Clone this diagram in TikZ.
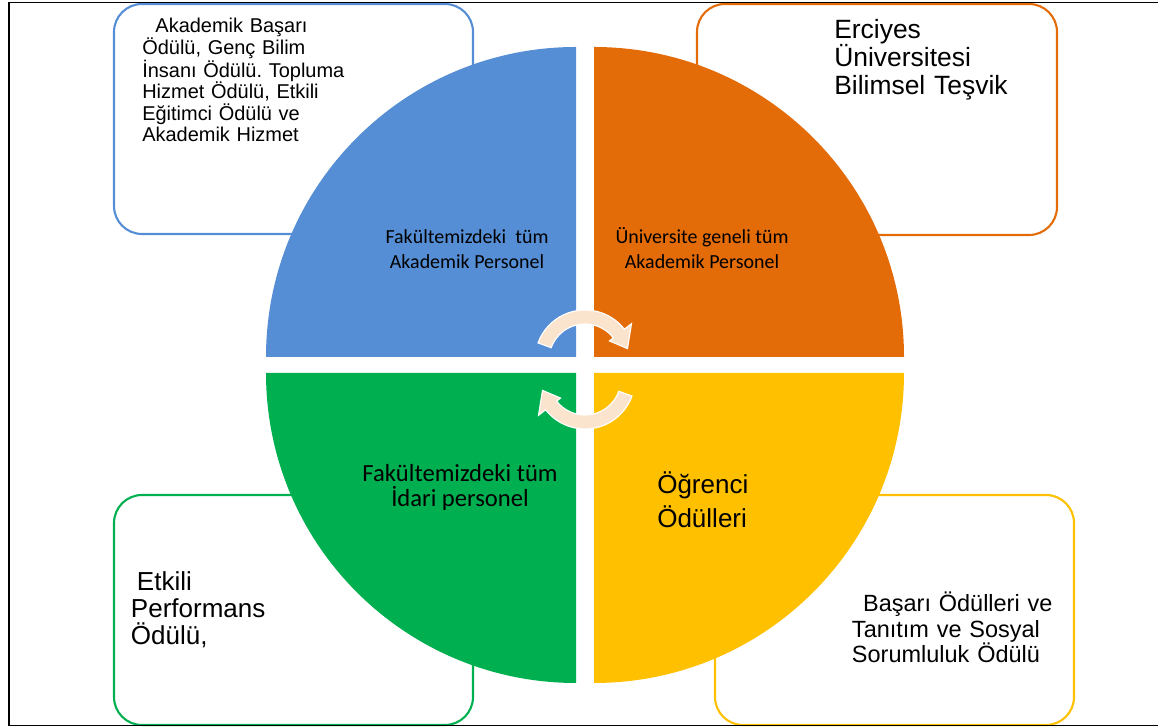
\documentclass[tikz,border=0pt]{standalone}
\usepackage{fontspec}
\setmainfont{Liberation Sans}
\newfontfamily\calibrifont{Carlito}
\usepackage{tikz}
\usetikzlibrary{math}
\frenchspacing
\definecolor{CycBlue}{RGB}{85,142,213}
\definecolor{CycOrange}{RGB}{227,108,9}
\definecolor{CycGreen}{RGB}{0,176,80}
\definecolor{CycYellow}{RGB}{255,192,0}
\definecolor{CycPeach}{RGB}{251,228,206}
\tikzset{%
  px/.style={x=0.025cm,y=0.025cm},
  award box/.style={draw=#1, line width=1.5pt, rounded corners=0.7cm, fill=white},
  box text/.style={anchor=base west, inner sep=0pt, align=left, text width=#1},
  sector text/.style={inner sep=0pt, align=center, font=\calibrifont\fontsize{#1}{17.8}\selectfont},
  frame line/.style={line width=1.4pt, draw=black},
  turn arrow/.pic={
    \path[fill=CycPeach, draw=white, line width=0.8pt]
      (160:50) arc[start angle=160, end angle=38, radius=50]
      -- (38:59) -- (15:44) -- (38:31) -- (38:36)
      arc[start angle=38, end angle=160, radius=36] -- cycle;
  }
}

\begin{document}
\begin{tikzpicture}[px]
    \tikzmath{
      \R=310; % sector radius
      \gx=9;% half gap, horizontal
      \gy=8;% half gap, vertical
      \cx=585;\cy=363;
    }
    \useasboundingbox (0,0) rectangle (1158,728);
    % Award boxes, behind the circle.
    \draw[award box=CycBlue] (114,494) rectangle (473,724);
    \draw[award box=CycOrange] (697,493) rectangle (1057,724);
    \draw[award box=CycGreen] (114,3) rectangle (473,233);
    \draw[award box=CycYellow] (715,3) rectangle (1074,233);
    % Four quarters.
    \fill[CycBlue] (\cx-\gx,\cy+\gy) -- ++(-\R,0) arc[start angle=180, end angle=90, radius=\R] -- cycle;
    \fill[CycOrange] (\cx+\gx,\cy+\gy) -- ++(0,\R) arc[start angle=90, end angle=0, radius=\R] -- cycle;
    \fill[CycGreen] (\cx-\gx,\cy-\gy) -- ++(-\R,0) arc[start angle=180, end angle=270, radius=\R] -- cycle;
    \fill[CycYellow] (\cx+\gx,\cy-\gy) -- ++(\R,0) arc[start angle=0, end angle=-90, radius=\R] -- cycle;
    % Frame.
    \draw[frame line] (1158,725.5) -- (9,725.5) -- (9,2.5) -- (1158,2.5);
    % Box texts.
    \node[box text=6cm, font=\fontsize{14.2}{15.2}\selectfont] (acadaward) at (142,695)
      {\hspace*{0.33cm}Akademik Başarı\\Ödülü, Genç Bilim\\İnsanı Ödülü. Topluma\\Hizmet Ödülü, Etkili\\Eğitimci Ödülü ve\\Akademik Hizmet};
    \node[box text=6cm, font=\fontsize{18.8}{19.7}\selectfont] (univaward) at (834,689)
      {Erciyes\\Üniversitesi\\Bilimsel Teşvik};
    \node[box text=6cm, font=\fontsize{18.5}{19}\selectfont] (staffaward) at (130.7,137.3)
      {\hspace*{0.15cm}Etkili\\Performans\\Ödülü,};
    \node[box text=6cm, font=\fontsize{16.7}{17.8}\selectfont] (studaward) at (851.7,116)
      {\hspace*{0.28cm}Başarı Ödülleri ve\\Tanıtım ve Sosyal\\Sorumluluk Ödülü};
    % Quarter texts.
    \node[sector text=14.2] (facacad) at (467,478.5) {Fakültemizdeki\ \ tüm\\Akademik Personel};
    \node[sector text=14.2] (univacad) at (702,479.5) {Üniversite geneli tüm\\Akademik Personel};
    \node[sector text=17.5] (facadmin) at (460,240.5) {Fakültemizdeki tüm\\İdari personel};
    \node[box text=4cm, font=\fontsize{18.5}{24}\selectfont] (student) at (657,234) {Öğrenci\\Ödülleri};
    % Turning arrows.
    \pic at (585,368) {turn arrow};
    \pic[rotate=180] at (585,349) {turn arrow};
\end{tikzpicture}
\end{document}
